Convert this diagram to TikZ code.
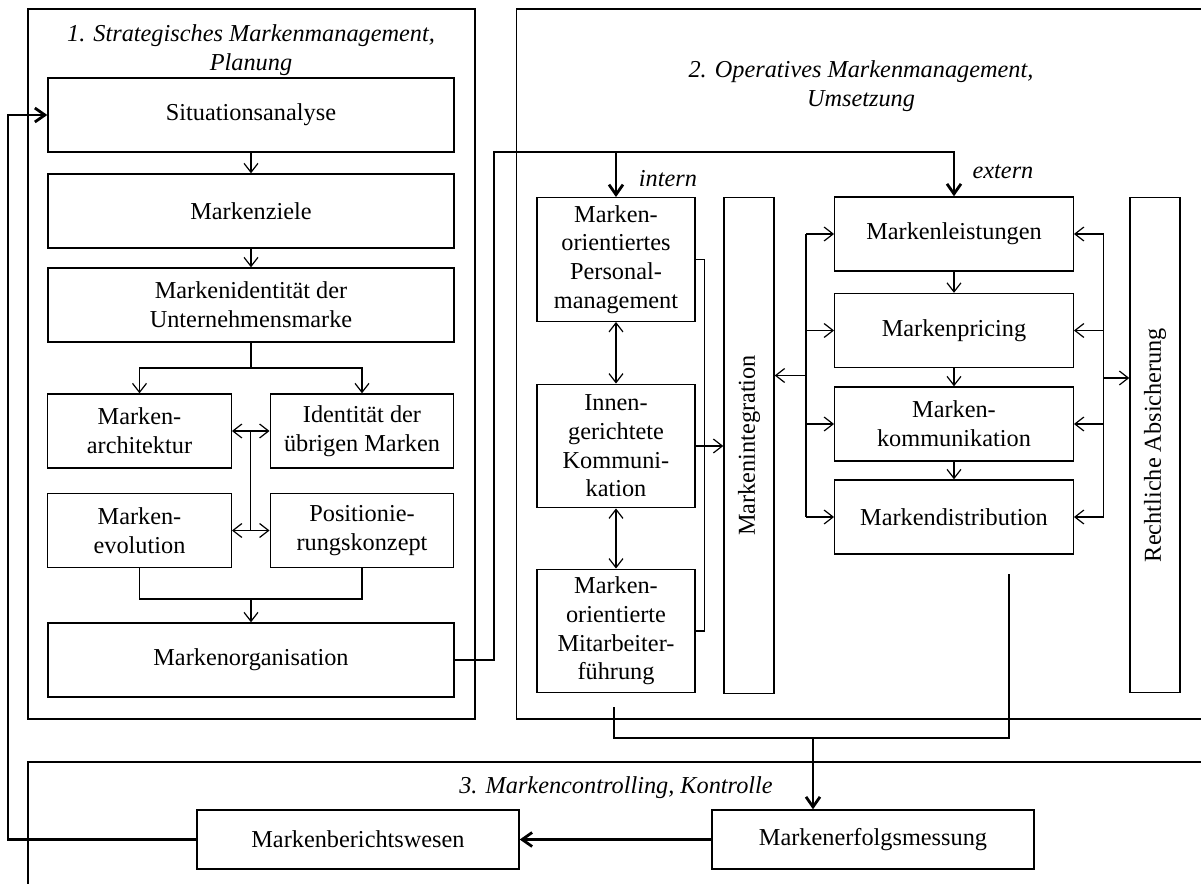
\documentclass[tikz,border=0pt]{standalone}
\usepackage{fontspec}
\setmainfont{Liberation Serif}
\usetikzlibrary{arrows.meta, positioning, calc}
\tikzset{
  block/.style={rectangle, draw, line width=0.7pt, align=center, inner sep=2pt,
    minimum height=37pt, font=\fontsize{12.15}{14.35}\selectfont},
  wideblock/.style={block, minimum width=203pt},
  halfblock/.style={block, minimum width=91.75pt},
  extblock/.style={block, minimum width=119.25pt},
  intblock/.style={block, minimum width=79pt, minimum height=61.75pt},
  tallblock/.style={block, minimum width=25pt, minimum height=247.75pt},
  ctrlblock/.style={block, minimum width=161pt, minimum height=29.5pt},
  vtext/.style={rotate=90, inner sep=0pt, font=\fontsize{12.15}{14.35}\selectfont},
  caption/.style={align=center, inner sep=0pt, font=\fontsize{12.15}{14.5}\selectfont\itshape},
  frame/.style={draw, line width=0.7pt},
  line/.style={line width=0.6pt},
  arrow/.style={line, -{Straight Barb[length=4.5pt, width=7pt]}},
  dblarrow/.style={line, {Straight Barb[length=4.5pt, width=7pt]}-{Straight Barb[length=4.5pt, width=7pt]}},
  flow/.style={line width=1.4pt},
  flowarrow/.style={flow, -{Straight Barb[length=5pt, width=7pt]}},
}

\begin{document}
\begin{tikzpicture}[x=0.5pt, y=-0.5pt]
  \useasboundingbox (0,0) rectangle (1201,884);
  \clip (0,0) rectangle (1201,884);

  % the three phases
  \draw[frame] (28,9) rectangle (475,719);
  \draw[frame] (516.5,9) rectangle (1230,719);
  \draw[frame] (28,762) rectangle (1230,910);
  \node[caption] (cap1) at (251,50)  {1. Strategisches Markenmanagement,\\Planung};
  \node[caption] (cap2) at (861,86)  {2. Operatives Markenmanagement,\\Umsetzung};
  \node[caption] (cap3) at (616,788) {3. Markencontrolling, Kontrolle};
  \node[caption] (intern) at (668,179) {intern};
  \node[caption] (extern) at (1003,172) {extern};

  % 1. Planung
  \node[wideblock] (sit)   at (251,115)   {Situationsanalyse};
  \node[wideblock] (ziel)  at (251,211)   {Markenziele};
  \node[wideblock] (ident) at (251,305)   {Markenidentität der\\Unternehmensmarke};
  \node[halfblock] (arch)  at (139.5,431) {Marken-\\architektur};
  \node[halfblock] (uebr)  at (362,431)   {Identität der\\übrigen Marken};
  \node[halfblock] (evol)  at (139.5,530.5) {Marken-\\evolution};
  \node[halfblock] (pos)   at (362,530.5) {Positionie-\\rungskonzept};
  \node[wideblock] (org)   at (251,660)   {Markenorganisation};

  % 2. Umsetzung
  \node[intblock]  (pers)   at (616,259.5) {Marken-\\orientiertes\\Personal-\\management};
  \node[intblock]  (innen)  at (616,446)   {Innen-\\gerichtete\\Kommuni-\\kation};
  \node[intblock]  (mitarb) at (616,631)   {Marken-\\orientierte\\Mitarbeiter-\\führung};
  \node[tallblock] (integ)  at (749,445.5) {};
  \node[vtext]     (integtxt) at (integ.center) {Markenintegration};
  \node[extblock]  (leist)  at (954,234)   {Markenleistungen};
  \node[extblock]  (pric)   at (954,330.5) {Markenpricing};
  \node[extblock]  (komm)   at (954,424)   {Marken-\\kommunikation};
  \node[extblock]  (distr)  at (954,517)   {Markendistribution};
  \node[tallblock] (recht)  at (1155,445)  {};
  \node[vtext]     (rechttxt) at (recht.center) {Rechtliche Absicherung};

  % 3. Kontrolle
  \node[ctrlblock] (erf) at (873,839.5) {Markenerfolgsmessung};
  \node[ctrlblock] (ber) at (358,839.5) {Markenberichtswesen};

  \coordinate (br1)   at (251,368);
  \coordinate (br2)   at (251,599);
  \coordinate (split) at (494,152);
  \coordinate (fl)    at (806,375.5);
  \coordinate (fr)    at (1103.5,378);
  \coordinate (b1)    at (614,707);
  \coordinate (b2)    at (1009,574);
  \coordinate (bm)    at (813,738);
  \coordinate (fb)    at (8,839.5);

  % connectors, planning
  \draw[arrow] (sit) -- (ziel);
  \draw[arrow] (ziel) -- (ident);
  \draw[line] (ident) -- (br1);
  \draw[arrow] (br1) -| (arch.north);
  \draw[arrow] (br1) -| (uebr.north);
  \draw[dblarrow] (arch) -- (uebr);
  \draw[dblarrow] (evol) -- (pos);
  \draw[line] ($(arch.east)!0.5!(uebr.west)$) -- ($(evol.east)!0.5!(pos.west)$);
  \draw[line] (evol.south) |- (br2) -| (pos.south);
  \draw[arrow] (br2) -- (org);

  % connectors, implementation
  \draw[flowarrow] (org.east) -| (split) -| (leist.north);
  \draw[flowarrow] (split -| pers.north) -- (pers.north);
  \draw[dblarrow] (pers) -- (innen);
  \draw[dblarrow] (innen) -- (mitarb);
  \draw[line] (pers.east) -- ++(8.5,0) |- (mitarb.east);
  \draw[arrow] (innen.east) -- (innen.east -| integ.west);
  \draw[line] (fl |- leist.west) -- (fl |- distr.west);
  \draw[line] (fr |- leist.east) -- (fr |- distr.east);
  \foreach \n in {leist,pric,komm,distr} {
    \draw[arrow] (fl |- \n.west) -- (\n.west);
    \draw[arrow] (fr |- \n.east) -- (\n.east);
  }
  \draw[arrow] (fl) -- (fl -| integ.east);
  \draw[arrow] (fr) -- (fr -| recht.west);
  \draw[arrow] (leist) -- (pric);
  \draw[arrow] (pric) -- (komm);
  \draw[arrow] (komm) -- (distr);

  % connectors, control
  \draw[flow] (b1) |- (bm) -| (b2);
  \draw[flowarrow] (bm) -- (bm |- erf.north);
  \draw[flowarrow] (erf) -- (ber);
  \draw[flowarrow] (ber.west) -- (fb) |- (sit.west);
\end{tikzpicture}
\end{document}
